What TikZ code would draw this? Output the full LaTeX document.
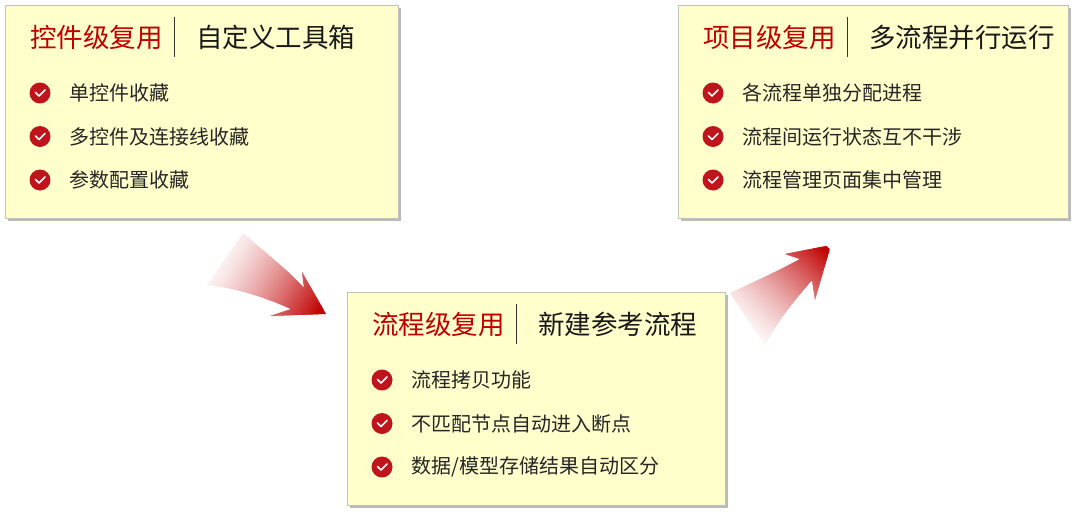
\documentclass[tikz,border=0pt]{standalone}
\usepackage{fontspec}
\setmainfont{Noto Sans CJK SC}
\usetikzlibrary{positioning,shadows,calc}
\definecolor{boxfill}{HTML}{FFFFCC}
\definecolor{titlered}{HTML}{C00000}
\definecolor{checkred}{HTML}{C0141C}
\definecolor{arrowred}{HTML}{C00000}
\tikzset{
  panelbox/.style={draw=black!25,line width=0.8pt,fill=boxfill,
    drop shadow={shadow xshift=3pt,shadow yshift=-3pt,opacity=0.45,fill=black!60}},
  redtitle/.style={anchor=west,inner sep=0pt,text=titlered,font=\fontsize{26.5}{30}\selectfont},
  blacktitle/.style={anchor=west,inner sep=0pt,text=black!90,font=\fontsize{26.5}{30}\selectfont},
  checkmark/.style={circle,fill=checkred,minimum size=21pt,inner sep=0pt},
  itemtext/.style={anchor=west,inner sep=0pt,text=black!85,font=\fontsize{20}{23}\selectfont}
}
% \panel{name}{x}{y}{w}{red}{black}{item1}{item2}{item3}
\newcommand{\panel}[9]{%
  \path[panelbox] (#2,#3) rectangle ++(#4,213);
  \node[redtitle] (#1red) at (#2+25,#3+32) {#5};
  \coordinate[right=12pt of #1red] (#1sep);
  \draw[line width=1pt,black!80] ([yshift=20pt]#1sep) -- ([yshift=-20pt]#1sep);
  \node[blacktitle,right=33pt of #1red] (#1black) {#6};
  \foreach \t [count=\i] in {#7,#8,#9} {
    \node[checkmark] (#1c\i) at (#2+35,#3+88+43.5*\i-43.5) {};
    \draw[white,line width=1.6pt,line cap=round,line join=round]
      ([xshift=-4.5pt,yshift=0.5pt]#1c\i.center) -- ([xshift=-1pt,yshift=-3pt]#1c\i.center) -- ([xshift=5pt,yshift=3pt]#1c\i.center);
    \node[itemtext,right=19pt of #1c\i] (#1t\i) {\t};
  }%
}
% gradient strips from (#1) (white) to (#2) (red)
\newcommand{\gradfill}[2]{%
  \foreach \k in {0,...,39} {
    \pgfmathsetmacro{\fa}{\k/40-0.01}
    \pgfmathsetmacro{\fb}{(\k+1)/40+0.01}
    \pgfmathsetmacro{\pc}{100*((\k+0.5)/40)^1.4}
    \fill[arrowred!\pc!white]
      ($(#1)!\fa!(#2)!90pt!90:(#2)$) -- ($(#1)!\fb!(#2)!90pt!90:(#2)$)
      -- ($(#1)!\fb!(#2)!90pt!-90:(#2)$) -- ($(#1)!\fa!(#2)!90pt!-90:(#2)$) -- cycle;
  }%
  \fill[arrowred] ($(#1)!1!(#2)!90pt!90:(#2)$) -- ($(#1)!1.4!(#2)!90pt!90:(#2)$)
      -- ($(#1)!1.4!(#2)!90pt!-90:(#2)$) -- ($(#1)!1!(#2)!90pt!-90:(#2)$) -- cycle;
}
\begin{document}
\begin{tikzpicture}[x=1pt,y=-1pt]
  \useasboundingbox (0,0) rectangle (1080,517);
  % arrows
  \coordinate (aonestart) at (215,248);
  \coordinate (aoneend) at (322,312);
  \coordinate (atwostart) at (745,338);
  \coordinate (atwoend) at (828,249);
  \begin{scope}
    \clip (243,233) .. controls (268,255) and (290,272) .. (304,288)
      -- (302,272) -- (326,314) -- (270,316) -- (291,309)
      .. controls (262,296) and (235,288) .. (207,285) -- cycle;
    \gradfill{aonestart}{aoneend}
  \end{scope}
  \begin{scope}
    \clip (730,293) .. controls (752,283) and (780,270) .. (800,259)
      -- (785,254) -- (831,245) -- (815,300) -- (812,280)
      .. controls (795,300) and (778,320) .. (765,345) -- cycle;
    \gradfill{atwostart}{atwoend}
  \end{scope}
  % panels
  \panel{ctl}{5}{5}{393}{控件级复用}{自定义工具箱}{单控件收藏}{多控件及连接线收藏}{参数配置收藏}
  \panel{flow}{347}{292}{378}{流程级复用}{新建参考流程}{流程拷贝功能}{不匹配节点自动进入断点}{数据/模型存储结果自动区分}
  \panel{proj}{678}{5}{390}{项目级复用}{多流程并行运行}{各流程单独分配进程}{流程间运行状态互不干涉}{流程管理页面集中管理}
\end{tikzpicture}
\end{document}
